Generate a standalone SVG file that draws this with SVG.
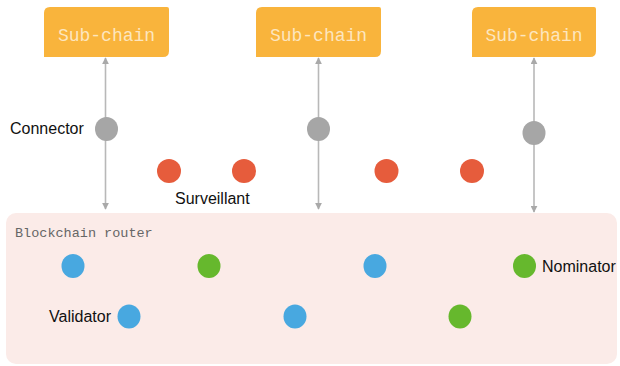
<svg xmlns="http://www.w3.org/2000/svg" width="620" height="366" viewBox="0 0 620 366">
  <defs>
    <marker id="ah" viewBox="0 0 10 10" refX="9" refY="5" markerWidth="7" markerHeight="7" markerUnits="userSpaceOnUse" orient="auto-start-reverse">
      <path d="M0,0 L10,5 L0,10 z" fill="#a9a9a9"/>
    </marker>
  </defs>
  <style>
    .box { fill: #f9b43c; }
    .boxtxt { font-family: "Liberation Mono", "DejaVu Sans Mono", monospace; font-size: 18px; fill: #fde6bf; text-anchor: middle; }
    .lbl { font-family: "Liberation Sans", Arial, sans-serif; font-size: 16px; fill: #111; }
    .mono { font-family: "Liberation Mono", "DejaVu Sans Mono", monospace; font-size: 13.5px; fill: #666; }
    .conn { stroke: #b8b8b8; stroke-width: 1.6; fill: none; marker-start: url(#ah); marker-end: url(#ah); }
    .gray { fill: #a6a6a6; }
    .red { fill: #e65c3c; }
    .blue { fill: #48a8e0; }
    .green { fill: #66b82d; }
  </style>

  <g id="router">
    <rect x="6" y="213" width="611" height="151" rx="10" ry="10" fill="#fbebe8"/>
    <text class="mono" x="15" y="237">Blockchain router</text>
  </g>

  <g id="subchain1">
    <path class="box" d="M50,7 H167 Q169,7 169,9 V51 Q169,57 163,57 H44 V13 Q44,7 50,7 Z"/>
    <text class="boxtxt" x="106.5" y="41">Sub-chain</text>
  </g>
  <g id="subchain2">
    <path class="box" d="M262,7 H379 Q381,7 381,9 V51 Q381,57 375,57 H256 V13 Q256,7 262,7 Z"/>
    <text class="boxtxt" x="318.5" y="41">Sub-chain</text>
  </g>
  <g id="subchain3">
    <path class="box" d="M478,7 H594 Q596,7 596,9 V51 Q596,57 590,57 H472 V13 Q472,7 478,7 Z"/>
    <text class="boxtxt" x="534" y="41">Sub-chain</text>
  </g>

  <g id="connectors">
    <line class="conn" x1="105.5" y1="58" x2="105.5" y2="209"/>
    <line class="conn" x1="318.5" y1="58" x2="318.5" y2="209"/>
    <line class="conn" x1="534" y1="58" x2="534" y2="212"/>
  </g>

  <g id="connector1">
    <ellipse class="gray" cx="106.5" cy="129" rx="11.5" ry="12"/>
    <text class="lbl" x="10" y="134">Connector</text>
  </g>
  <g id="connector2">
    <ellipse class="gray" cx="318.5" cy="129" rx="11.5" ry="12"/>
  </g>
  <g id="connector3">
    <ellipse class="gray" cx="534" cy="133" rx="11.5" ry="12"/>
  </g>

  <g id="surveillant1"><ellipse class="red" cx="169" cy="171" rx="12" ry="12"/></g>
  <g id="surveillant2"><ellipse class="red" cx="244" cy="171" rx="12" ry="12"/></g>
  <g id="surveillant3"><ellipse class="red" cx="386.5" cy="171" rx="12" ry="12"/></g>
  <g id="surveillant4"><ellipse class="red" cx="472" cy="171" rx="12" ry="12"/></g>
  <g id="surveillant-label"><text class="lbl" x="175" y="204">Surveillant</text></g>

  <g id="validator1"><ellipse class="blue" cx="73" cy="266" rx="11.5" ry="12"/></g>
  <g id="nominator1"><ellipse class="green" cx="209" cy="266" rx="11.5" ry="12"/></g>
  <g id="validator2"><ellipse class="blue" cx="375" cy="266" rx="11.5" ry="12"/></g>
  <g id="nominator2">
    <ellipse class="green" cx="524.5" cy="266" rx="11.5" ry="12"/>
    <text class="lbl" x="542" y="272">Nominator</text>
  </g>
  <g id="validator3">
    <ellipse class="blue" cx="129" cy="316.5" rx="11.5" ry="12"/>
    <text class="lbl" x="49" y="322">Validator</text>
  </g>
  <g id="validator4"><ellipse class="blue" cx="295" cy="316.5" rx="11.5" ry="12"/></g>
  <g id="nominator3"><ellipse class="green" cx="460" cy="316.5" rx="11.5" ry="12"/></g>
</svg>
